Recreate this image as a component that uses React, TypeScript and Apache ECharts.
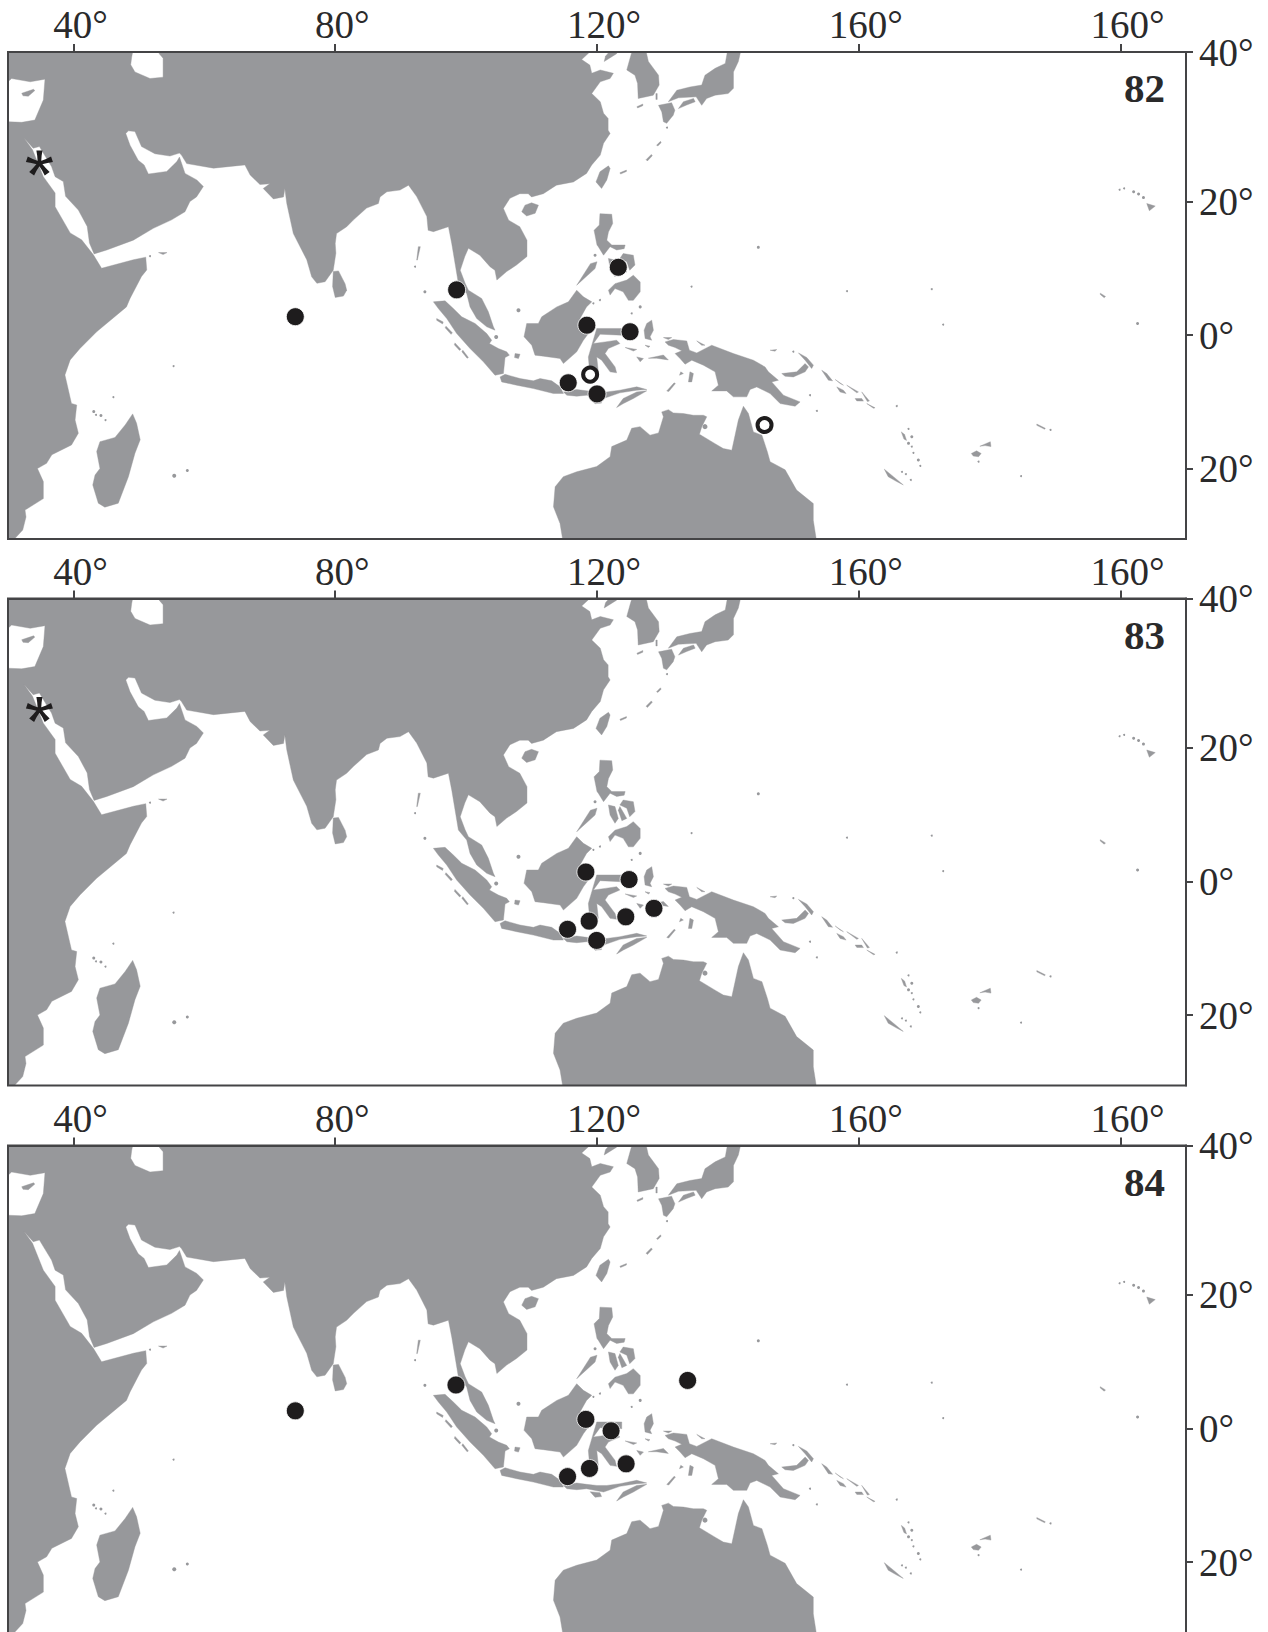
import React, { useEffect, useRef } from "react";
import * as echarts from "echarts";

// Coastlines are [longitude, Mercator-projected latitude in degrees].
const eurasiaAfrica = [[30,44],[49.2,44],[48.9,42.5],[48.75,41.3],[49.4,40.2],[51.7,39.2],[53.7,39.4],[53.7,42.3],[53.1,43],[53,44],[119.7,44],[117.66,42.1],[118.9,41.25],[119.2,40],[120.5,40.5],[122.5,40],[122,39.2],[120.5,38.7],[119.2,36.9],[120.5,35.65],[121,33.9],[121.7,33.1],[121.7,31.3],[122,30.8],[121,29.3],[120.5,27.5],[119.2,26],[118.4,24.7],[116.4,23.4],[113.8,22.9],[111.8,21.6],[110,21.1],[109.5,21.6],[108.2,21.6],[106.7,20.9],[105.7,19.35],[106.5,17.55],[108.2,16.55],[109.3,14.5],[109.3,12],[107.7,10.7],[106.2,9.7],[104.7,8.4],[104.4,9.9],[103.65,10.45],[102.1,12.2],[100.35,13.25],[99.8,12],[99.1,9.9],[99.85,7.9],[100.35,6.85],[102.38,5.58],[103.4,3.54],[104.17,1.25],[104.42,0.74],[103.15,1.25],[101.62,2.52],[100.6,4.3],[100.09,6.34],[98.82,7.87],[98.6,9.2],[98.3,11],[97.8,14],[97.3,16.55],[95,15.8],[94.2,16],[94,18.1],[92.45,21.15],[91.2,22.9],[89.9,22.15],[87.9,21.9],[86.85,21.1],[86.6,20.1],[84.8,19.4],[82.8,17.6],[81.75,16.55],[80.2,15.5],[80,14],[80.1,12.5],[79.7,9.9],[78.45,8.15],[77.2,7.9],[76.4,8.9],[75.65,11.5],[73.6,15.5],[72.6,20.1],[72.3,22.4],[72.1,21.1],[70.55,20.8],[69,22.4],[70,23.1],[68.5,23],[67,24.45],[66.2,26],[61.4,25.5],[57.3,26.2],[56.5,27.5],[56.2,27.8],[54.75,27.35],[52.45,27.7],[50.4,28.8],[49.4,31.1],[48.4,31.2],[48,30.8],[48.65,29],[49.9,26.7],[50.8,26],[51.45,24.6],[54.25,25],[55.8,26.5],[56.2,27.2],[57.05,24.7],[58.85,23.7],[59.85,22.7],[58.8,21.1],[57.8,20.4],[57.05,18.85],[55,17.6],[52.2,16.3],[49.15,14.5],[45.1,13],[43.15,12.4],[42.45,14.05],[42.1,16.6],[40.75,19.1],[38.8,21.2],[38.45,23.45],[37.2,24.2],[36.65,25.75],[35.4,27.8],[34.8,28.8],[33.85,28.55],[32.45,30.1],[33.75,28.3],[35.4,24.2],[37.2,21.7],[37.2,19.6],[39.5,15.6],[41.25,14.55],[43.05,12.25],[44.3,10.2],[49.15,11.5],[51.05,11.9],[51.2,9.95],[50.4,8.95],[48.65,5.6],[48.1,4.3],[43.55,0.5],[41,-2.05],[39.5,-3.8],[38.7,-6.1],[39.7,-10.45],[40.5,-10.7],[40.25,-13],[40.75,-15],[39.7,-16.8],[36.7,-18.3],[35.9,-19.6],[34.5,-20.4],[35.4,-22.4],[35.4,-25],[32.6,-26.75],[32.75,-27.8],[32.25,-29.8],[31.05,-31.1],[30,-33],[30,32.6],[32.1,32.5],[34.1,32.85],[35.4,35.9],[35.65,39.1],[33.4,38.7],[30.55,39.2],[30,38.7]];
const australia = [[114.85,-34],[114.85,-31.8],[114.35,-28.8],[113.35,-26.25],[113.6,-23.2],[114.85,-21.65],[116.9,-20.9],[119.95,-20.1],[122,-18.6],[122.25,-17.05],[124.55,-16.05],[125.3,-14.25],[126.58,-14],[128.1,-15.3],[129.4,-14.96],[130.15,-12.5],[129.89,-11.75],[130.91,-11.4],[131.67,-11.9],[133.2,-12],[134.73,-12.26],[136.26,-12.26],[136.77,-12.5],[136,-14.04],[135.65,-15.16],[138.04,-16.6],[139.3,-17.35],[140.6,-17.6],[141.6,-13],[142.37,-10.88],[143.14,-12],[143.9,-14.8],[145.2,-15.3],[146.04,-17.86],[146.45,-19.35],[148.75,-20.6],[150.5,-23.7],[153.05,-25.75],[153.05,-28.3],[153.6,-31.85],[153.6,-34]];
const largeIslands = [
  [[79.7,9.7],[80.5,9.8],[81.5,7.85],[81.75,6.85],[81.25,5.95],[80,5.75],[79.6,7.4]],
  [[49.05,-12.05],[49.65,-13.5],[50.2,-16],[49.4,-18.05],[48.4,-21.65],[46.85,-25.7],[44.8,-26.3],[43.8,-25.7],[42.95,-22.9],[43.3,-21.4],[44.05,-20.4],[43.55,-17.8],[44.05,-16.3],[46.35,-15.65],[47.9,-13.75]],
  [[125.55,44],[127.35,44],[127.85,41.8],[129.4,39.7],[129.5,38.2],[128.6,36.65],[126.3,36.15],[126.2,38.45],[125.8,39.7],[124.55,40.5],[125.05,42.3]],
  [[140.05,44],[142.1,44],[141.6,41.8],[140.85,40.2],[140.85,37.7],[140.05,36.9],[138.05,36.65],[136.75,36.15],[136,35.1],[135.15,36.4],[132.45,36.25],[130.9,35.65],[132.2,37.4],[134.2,37.9],[136,38.2],[136.5,39.7],[138.05,40.75],[139.6,41.5]],
  [[132.45,34.6],[133.2,35.65],[134.75,36.15],[135,35.65],[133.7,35.15]],
  [[129.4,35.1],[131.4,35.5],[131.9,34.35],[131.65,33.6],[130.65,32.35],[130.15,32.6],[129.9,34.1]],
  [[121.75,25.85],[122,25.45],[121.5,23.7],[120.7,22.4],[119.85,23.4],[120.45,24.95]],
  [[110,20.2],[111.05,19.85],[110.55,18.6],[109.25,18.2],[108.5,18.85],[109,19.85]],
  [[120.45,18.55],[122.25,18.45],[122.4,17.05],[121.75,15.75],[121.5,14.5],[122.25,13.75],[124.3,13.75],[124.15,13.2],[123,13],[122,13.5],[121,12.2],[120.2,13.5],[120,13.75],[119.55,16],[120.35,16.8]],
  [[121.75,11.7],[122.75,11.45],[123.25,9.65],[122.75,8.9],[122,10.15]],
  [[124,12.45],[125.55,12.2],[125.8,10.7],[125,9.9],[124.55,11.2],[123.5,11.7]],
  [[123.5,11.45],[124.55,9.65],[123.8,9.3],[123.25,10.9]],
  [[121.75,6.85],[122.75,7.85],[124.55,8.4],[125.55,9.15],[126.6,8.1],[126.6,6.6],[125.55,5.3],[124.8,5.3],[124,6.6],[122.75,7.1],[122,6.1]],
  [[95,5.07],[96.78,5.22],[98.05,4.05],[99.33,2.78],[101.37,1.76],[103.15,0.23],[103.91,-0.79],[103.56,-1.3],[104.93,-2.06],[106.2,-2.57],[106.61,-3.08],[105.95,-3.44],[105.7,-5.88],[104.42,-6.14],[102.64,-4.1],[100.6,-2.06],[98.56,0.23],[97.04,2.52],[95.76,4.05]],
  [[105.19,-6.4],[105.95,-6],[108.24,-6.65],[110.28,-7],[111.3,-6.65],[113.08,-7],[114.36,-7.92],[114.87,-8.94],[113.34,-8.94],[110.28,-8.18],[107.73,-7.67],[105.44,-7.16]],
  [[114.87,-8.7],[116.9,-8.33],[118.4,-8.53],[120,-8.7],[121.5,-8.7],[123.5,-8.43],[126.07,-7.92],[127.6,-8.33],[126.07,-8.43],[123.5,-8.84],[121,-9.7],[118.4,-9.2],[116.9,-9.35],[115.4,-9.2]],
  [[123,-11.08],[124,-9.7],[126.07,-8.7],[127.6,-8.53],[125.56,-9.7],[124.03,-10.47]],
  [[118.95,-9.65],[120.45,-9.8],[120.7,-10.4],[119.7,-10.5]],
  [[116.9,6.85],[117.92,5.83],[119.2,5.07],[118.4,4.3],[117.41,2.52],[117.16,1.25],[119.45,1.25],[117.92,-0.8],[116.9,-2.57],[114.87,-4.36],[114.36,-3.59],[111.81,-3.23],[110.53,-3.08],[110.03,-1.55],[108.85,-0.28],[109.26,1.76],[111.04,1.76],[111.55,2.78],[113.85,4.3],[115.63,5.07]],
  [[119.96,1],[123.78,1],[123.78,-0.03],[120.47,0.13],[119.45,-1.3],[121.23,-1.05],[123,-0.79],[123.5,-1.3],[121.74,-2.06],[121.23,-2.83],[122.76,-4.87],[123,-5.78],[122,-5.63],[120.72,-3.85],[119.96,-3.34],[120.2,-5.63],[118.94,-6.4],[118.68,-3.34],[119.35,-1.05]],
  [[127.6,1.76],[128.36,2.27],[128.62,0.74],[128.11,-0.28],[128.36,-0.79],[127.35,-0.53],[127.2,0.74]],
  [[127.85,-3.55],[130.15,-3.05],[130.9,-3.8],[129.1,-3.55]],
  [[126.07,-3.34],[127.1,-3.6],[126.6,-4.1]],
  [[124.3,-1.9],[126.07,-2.2],[125.56,-2.45]],
  [[107.48,-2.83],[108.24,-2.93],[108,-3.6],[107.4,-3.44]],
  [[130.4,-1.05],[131.67,-0.69],[133.71,-0.9],[134.12,-2.32],[135.24,-2.73],[137.53,-1.56],[140.84,-2.83],[143.9,-3.85],[145.68,-4.87],[146.19,-5.63],[147.72,-6.91],[146.7,-7.16],[148.49,-9.2],[151.03,-10.22],[150.27,-10.88],[147.98,-10.47],[146.45,-8.94],[144.41,-7.93],[143.39,-8.33],[142.88,-9.45],[140.84,-9.45],[139.82,-8.54],[137.53,-8.54],[138.55,-7.67],[138.04,-5.63],[136.26,-4.61],[134.48,-3.85],[133.46,-4.46],[132.69,-3.6],[131.93,-2.83],[132.95,-2.42],[131.93,-1.91],[130.91,-1.56]],
  [[148.23,-5.89],[150.52,-5.63],[151.8,-4.36],[152.31,-4.87],[151.8,-5.63],[150,-6.4],[148.74,-6.3]],
  [[134.2,-5.63],[134.73,-5.89],[134.48,-7.16],[133.97,-7.16]],
  [[177.2,-18.1],[178,-17.7],[178.7,-18.1],[178.3,-18.6],[177.5,-18.5]],
  [[178.5,-17],[180.1,-16.3],[180.2,-17.05],[179.3,-16.9]],
  [[163.9,-20.5],[165.3,-21.65],[166.8,-22.9],[165.8,-22.4],[164.5,-21.65]],
  [[204,20.1],[205.3,19.7],[204.4,19]],
  [[32.1,36.95],[33.9,37.55],[34.1,37.35],[33.1,36.5],[32.3,36.55]],
  [[121.1,41.8],[123,43],[123.3,44],[122.5,44],[121.3,42.6]],
];
const slivers = [
  [[126.1,34.9],[127,35.3],[127,35.05],[126.2,34.7]],
  [[129,36.9],[129.2,36.9],[129.2,36],[129,36]],
  [[129.1,29],[129.7,29.6],[129.8,29.4],[129.3,28.9]],
  [[127.5,26.8],[128.3,27.6],[128.45,27.4],[127.7,26.6]],
  [[123.5,24.8],[124.5,25.2],[124.5,25],[123.6,24.6]],
  [[92.45,11.45],[92.7,13.5],[93,13.5],[92.55,11.45]],
  [[120,11.2],[119.7,10.15],[117.15,7.85],[116.9,7.6],[119,10.9]],
  [[95.5,2.52],[96.5,2],[96.4,1.7],[95.5,2.25]],
  [[96.93,1.35],[97.9,0.33],[97.7,0.1],[96.8,1.1]],
  [[98.3,-1.2],[99.2,-2.17],[99,-2.35],[98.2,-1.5]],
  [[99.5,-2.32],[100.35,-3.44],[100.15,-3.55],[99.35,-2.55]],
  [[150.78,-2.73],[152.05,-3.44],[153.07,-4.6],[152.8,-5.12],[151.8,-3.85]],
  [[154.34,-5.38],[155.1,-5.89],[156,-7],[155.36,-6.9]],
  [[156.4,-6.8],[157.66,-7.67],[157.15,-7.4]],
  [[156.64,-7.93],[157.66,-8.43],[158.06,-8.95],[157.15,-8.7]],
  [[158.16,-7.67],[159.95,-8.69],[159.7,-8.84]],
  [[159.44,-9.71],[160.45,-9.71],[160.71,-10.1],[159.7,-10.07]],
  [[160.45,-8.69],[161.63,-10.07],[161.32,-10.17]],
  [[161.22,-10.47],[162.49,-11.13],[162.24,-11.19]],
  [[146.45,-2.32],[147.47,-2.22],[147.2,-2.47]],
  [[130.66,-8.54],[131.78,-7.31],[131.98,-7.42],[130.96,-8.64]],
  [[132.8,-5.63],[133.2,-5.89],[132.6,-6.14]],
  [[127.34,-1.56],[128.1,-1.7],[127.85,-1.9]],
  [[130.15,-0.39],[131.42,-0.39],[130.9,-0.69]],
  [[135.24,-0.9],[136.5,-1.56],[136,-1.56]],
  [[166.5,-14.8],[167,-15.2],[167.3,-16.1],[166.9,-15.9]],
  [[196.9,6.4],[197.7,5.9],[197.5,5.7],[196.9,6.2]],
  [[187.2,-13.6],[188.5,-14.25],[188.4,-14.4],[187.2,-13.8]],
  [[53,12.6],[54.3,12.6],[53.7,12.3]],
];
const tinyIslands = [[43.1,-11.7,3],[44.2,-12.3,3],[43.45,-12.2,2],[44.9,-13,2],[55.3,-4.75,2],[46.1,-9.5,2],[55.4,-21.5,4],[57.4,-20.7,3],[130.7,31.7,2],[144.65,13.4,3],[134.45,7.4,2],[108,3.8,4],[92.2,10.45,2],[93.7,6.6,3],[120.45,5.35,2],[119.45,4.85,2],[126.6,4.3,3],[125.3,3.3,2],[119.7,12.2,3],[172.9,1.6,2],[202.6,1.75,3],[171.15,7,2],[158.2,6.7,2],[165.8,-10.85,2],[184.8,-21.55,2],[178.3,-19.35,2],[167.6,-14.35,2],[168.1,-15.55,3],[167.6,-16.55,3],[168.1,-17.05,2],[168.35,-18,2],[169.1,-19.1,3],[169.4,-20,2],[166.6,-20.9,2],[167.2,-21.25,2],[167.95,-22.15,2],[202,21.9,3],[202.75,21.55,3],[203.5,21,3],[199.85,22.2,2],[200.55,22.4,2],[189.3,-14.5,2],[136.5,-14,5],[152.55,-9.2,2],[153.6,-11.6,2],[150,-2.55,2],[51.7,12.05,2],[104.6,-0.3,4]];

const panelNames = ["82", "83", "84"];
const solidPoints = [
  [[73.9,2.8],[98.55,6.9],[123.25,10.35],[118.45,1.5],[125.05,0.5],[115.6,-7.3],[120,-9]],
  [[118.3,1.45],[124.9,0.3],[128.7,-4.1],[124.4,-5.4],[118.8,-6.05],[115.5,-7.3],[119.95,-9]],
  [[73.9,2.7],[98.45,6.65],[133.85,7.35],[118.3,1.4],[122.15,-0.35],[124.45,-5.4],[118.85,-6.1],[115.5,-7.35]],
];
const openPoints = [[[118.95,-6.05],[145.6,-13.75]], [], []];
const starPoints = [[[34.8,26.3]], [[34.8,26.3]], []];

const xTicks = [40, 80, 120, 160, 200];
const xTickLabels = ["40°", "80°", "120°", "160°", "160°"];
const yTickLatitudes = [-20, 0, 20, 40];
const yTickLabels = ["20°", "0°", "20°", "40°"];

const LAND = "#97989b";
const INK = "#2a2a2b";
const AXIS = "#444446";
const FONT = '"Liberation Serif", serif';
const Y_MAX = 43.25;
const Y_MIN = -31.17;
const mercator = (lat: number) => (Math.asinh(Math.tan((lat * Math.PI) / 180)) * 180) / Math.PI;
const yTicks = yTickLatitudes.map((lat) => Math.min(mercator(lat), Y_MAX));

function asteriskPath() {
  const arm = (angle: number) => {
    const a = (angle * Math.PI) / 180;
    const dx = Math.cos(a), dy = Math.sin(a), px = -dy, py = dx;
    const pt = (r: number, w: number) => `${(50 + dx * r + px * w).toFixed(1)} ${(52 + dy * r + py * w).toFixed(1)}`;
    return `M${pt(0, 6)}L${pt(28, 8)}L${pt(48, 11)}L${pt(48, -11)}L${pt(28, -8)}L${pt(0, -6)}Z`;
  };
  return "path://" + [-90, -18, 54, 126, 198].map(arm).join("");
}

const allPolygons = [eurasiaAfrica, australia, ...largeIslands, ...slivers];

export default function App() {
  const ref = useRef<HTMLDivElement>(null);
  useEffect(() => {
    const chart = echarts.init(ref.current!, undefined, { renderer: "svg" });
    const tops = [52, 598.5, 1145.5];
    const extra = [0, 0, 4];
    const series: any[] = [];
    const star = asteriskPath();
    panelNames.forEach((_, i) => {
      series.push({
        type: "custom",
        xAxisIndex: i,
        yAxisIndex: i,
        clip: true,
        silent: true,
        z: 2,
        data: allPolygons.map((p, k) => [p[0][0], p[0][1], k]),
        renderItem: (params: any, api: any) => {
          const poly = allPolygons[api.value(2)];
          return {
            type: "polygon",
            shape: { points: poly.map((pt) => api.coord(pt)) },
            style: { fill: LAND, stroke: LAND, lineWidth: 0.4 },
          };
        },
      });
      series.push({
        type: "scatter",
        xAxisIndex: i,
        yAxisIndex: i,
        silent: true,
        z: 3,
        data: tinyIslands,
        symbolSize: (d: number[]) => d[2],
        itemStyle: { color: LAND, opacity: 1 },
      });
      series.push({
        type: "scatter",
        xAxisIndex: i,
        yAxisIndex: i,
        silent: true,
        z: 10,
        data: solidPoints[i],
        symbolSize: 18,
        itemStyle: { color: "#1e1c1d", borderColor: "#ffffff", borderWidth: 0.8, opacity: 1 },
      });
      series.push({
        type: "scatter",
        xAxisIndex: i,
        yAxisIndex: i,
        silent: true,
        z: 10,
        data: openPoints[i],
        symbolSize: 14,
        itemStyle: { color: "#ffffff", borderColor: "#1e1c1d", borderWidth: 4, opacity: 1 },
      });
      series.push({
        type: "scatter",
        xAxisIndex: i,
        yAxisIndex: i,
        silent: true,
        z: 10,
        data: starPoints[i],
        symbol: star,
        symbolSize: [27, 25],
        itemStyle: { color: "#1e1c1d", opacity: 1 },
      });
    });
    chart.setOption({
      animation: false,
      backgroundColor: "#ffffff",
      grid: panelNames.map((_, i) => ({
        show: true,
        left: 8,
        top: tops[i],
        width: 1178,
        height: 487 + extra[i],
        outerBoundsMode: "none",
        borderColor: AXIS,
        borderWidth: 2,
        backgroundColor: "transparent",
        z: 5,
      })),
      xAxis: panelNames.map((_, i) => ({
        type: "value",
        gridIndex: i,
        position: "top",
        min: 30,
        max: 210,
        z: 6,
        splitLine: { show: false },
        axisLine: { show: true, onZero: false, lineStyle: { color: AXIS, width: 2 } },
        axisTick: { show: true, length: 8, customValues: xTicks, lineStyle: { color: AXIS, width: 2 } },
        axisLabel: {
          show: true,
          customValues: xTicks,
          margin: 8,
          padding: [0, 0, 0, 14],
          fontFamily: FONT,
          fontSize: 39,
          color: INK,
          formatter: (v: number) => xTickLabels[xTicks.indexOf(v)] ?? "",
        },
      })),
      yAxis: panelNames.map((_, i) => ({
        type: "value",
        gridIndex: i,
        position: "right",
        min: Y_MIN - extra[i] / 6.544,
        max: Y_MAX,
        z: 6,
        splitLine: { show: false },
        axisLine: { show: true, onZero: false, lineStyle: { color: AXIS, width: 2 } },
        axisTick: { show: true, length: 7, customValues: yTicks, lineStyle: { color: AXIS, width: 2 } },
        axisLabel: {
          show: true,
          customValues: yTicks,
          margin: 13,
          padding: [0, 0, 5, 0],
          fontFamily: FONT,
          fontSize: 39,
          color: INK,
          formatter: (v: number) => yTickLabels[yTicks.indexOf(v)] ?? "",
        },
      })),
      graphic: panelNames.map((name, i) => ({
        type: "text",
        z: 20,
        x: 1165,
        y: tops[i] + 36,
        style: {
          text: name,
          fontFamily: FONT,
          fontWeight: "bold",
          fontSize: 41,
          fill: INK,
          textAlign: "right",
          textVerticalAlign: "middle",
          verticalAlign: "middle",
        },
      })),
      series,
    });
    return () => chart.dispose();
  }, []);
  return <div ref={ref} style={{ position: "absolute", left: 0, top: 0, width: 1268, height: 1632 }} />;
}
